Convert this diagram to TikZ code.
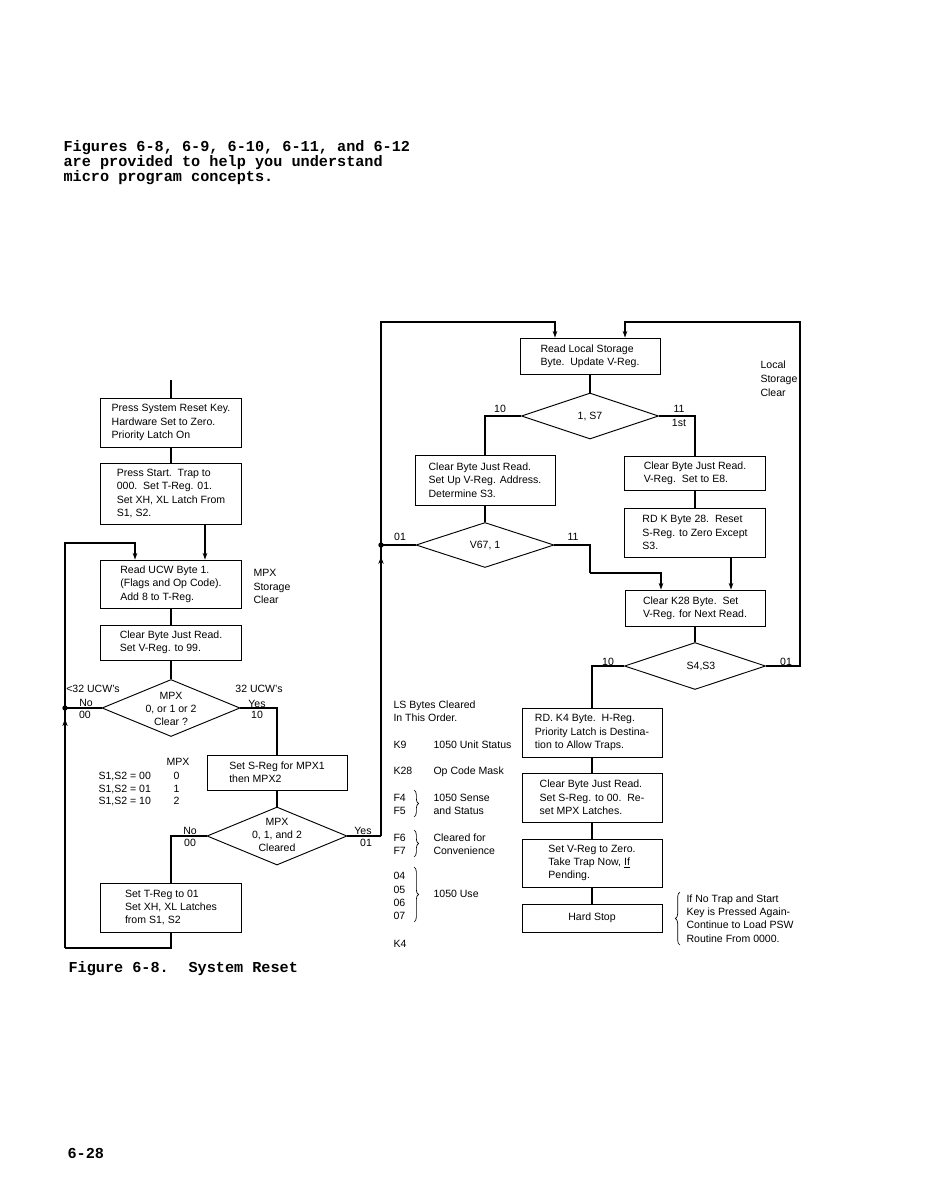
\documentclass[tikz,border=0pt]{standalone}
\usepackage{fontspec}
\setmainfont{Liberation Sans}
\newfontfamily\typew{Liberation Mono}
\usetikzlibrary{shapes.geometric,arrows.meta,decorations.pathreplacing,decorations.markings,calc}
\newcommand\bxfont{\fontsize{7.9}{10}\selectfont}
\newcommand\hdfont{\typew\bfseries\fontsize{11.4}{10.9}\selectfont}
\begin{document}
\begin{tikzpicture}[x=0.75pt,y=-0.75pt,
 line width=0.8pt,
 box/.style={draw, line width=0.7pt, align=left, font=\bxfont, inner sep=2pt},
 dia/.style={draw, shape=diamond, line width=0.7pt, inner sep=0pt},
 lbl/.style={font=\bxfont, inner sep=0pt},
 lw/.style={font=\bxfont, inner sep=0pt, anchor=base west},
 arr/.style={-{Stealth[length=5pt,width=3.5pt]}},
 hd/.style={font=\hdfont, inner sep=0pt, anchor=west},
 dot/.style={circle, fill, inner sep=0pt, minimum size=4pt},
 upmark/.style={postaction={decorate}, decoration={markings, mark=at position #1 with {\arrow{Stealth[length=5.5pt,width=4pt]}}}},
 brc/.style={decorate, decoration={brace, amplitude=3.5pt}, line width=0.5pt}
]
\useasboundingbox[fill=white] (0,0) rectangle (930,1196);

% header
\node[hd] (h1) at (63,148) {Figures 6-8, 6-9, 6-10, 6-11, and 6-12};
\node[hd] (h2) at (63,163) {are provided to help you understand};
\node[hd] (h3) at (63,178) {micro program concepts.};
\node[hd] (cap1) at (68,969) {Figure 6-8.};
\node[hd] (cap2) at (188,969) {System Reset};
\node[hd] (pg) at (67,1153) {6-28};

% left column boxes
\node[box, minimum width=105.75pt, minimum height=36.75pt] (b1) at (171,422.5) {Press System Reset Key.\\Hardware Set to Zero.\\Priority Latch On};
\node[box, minimum width=105.75pt, minimum height=45.75pt] (b2) at (171,493.5) {Press Start.\ \ Trap to\\000.\ \ Set T-Reg. 01.\\Set XH, XL Latch From\\S1, S2.};
\node[box, minimum width=105.75pt, minimum height=36pt] (b3) at (171,584) {Read UCW Byte 1.\\(Flags and Op Code).\\Add 8 to T-Reg.};
\node[box, minimum width=105.75pt, minimum height=26.25pt] (b4) at (171,642.5) {Clear Byte Just Read.\\Set V-Reg. to 99.};
\node[box, minimum width=105pt, minimum height=26.25pt] (b5) at (277,772.5) {Set S-Reg for MPX1\\then MPX2};
\node[box, minimum width=105.75pt, minimum height=36.75pt] (b7) at (171,907.5) {Set T-Reg to 01\\Set XH, XL Latches\\from S1, S2};

% left diamonds
\node[dia, minimum width=103.5pt, minimum height=42.75pt] (d1) at (171,708) {};
\node[lbl, align=center] (d1t) at (171,709) {MPX\\0, or 1 or 2\\Clear ?};
\node[dia, minimum width=105pt, minimum height=43.5pt] (d2) at (277,836) {};
\node[lbl, align=center] (d2t) at (277,835) {MPX\\0, 1, and 2\\Cleared};

% right column boxes
\node[box, minimum width=105pt, minimum height=27pt] (r1) at (590,356) {Read Local Storage\\Byte.\ \ Update V-Reg.};
\node[box, minimum width=105pt, minimum height=37.5pt] (r2) at (485,480) {Clear Byte Just Read.\\Set Up V-Reg. Address.\\Determine S3.};
\node[box, minimum width=105.75pt, minimum height=25.5pt] (r3) at (695,473) {Clear Byte Just Read.\\V-Reg.\ \ Set to E8.};
\node[box, minimum width=105.75pt, minimum height=36.75pt] (r4) at (695,532.5) {RD K Byte 28.\ \ Reset\\S-Reg. to Zero Except\\S3.};
\node[box, minimum width=105pt, minimum height=27pt] (r5) at (695,608) {Clear K28 Byte.\ \ Set\\V-Reg. for Next Read.};
\node[box, minimum width=105pt, minimum height=36.75pt] (r6) at (592,732.5) {RD. K4 Byte.\ \ H-Reg.\\Priority Latch is Destina-\\tion to Allow Traps.};
\node[box, minimum width=105pt, minimum height=36.75pt] (r7) at (592,797.5) {Clear Byte Just Read.\\Set S-Reg. to 00.\ \ Re-\\set MPX Latches.};
\node[box, minimum width=105pt, minimum height=36pt] (r8) at (592,863) {Set V-Reg to Zero.\\Take Trap Now, \underline{If}\\Pending.};
\node[box, minimum width=105pt, minimum height=21pt] (r9) at (592,918) {Hard Stop};

% right diamonds
\node[dia, minimum width=102.75pt, minimum height=34.5pt] (dR) at (590,416) {};
\node[lbl] (dRt) at (590,416) {1, S7};
\node[dia, minimum width=103.5pt, minimum height=33.75pt] (dV) at (485,545) {};
\node[lbl] (dVt) at (485,545) {V67, 1};
\node[dia, minimum width=105.75pt, minimum height=35.25pt] (dS) at (695,666) {};
\node[lbl] (dSt) at (701,666) {S4,S3};

% helper coordinates
\coordinate (top) at (171,380);
\coordinate (xa) at (205,0);
\coordinate (jL) at (65,708);
\coordinate (lb) at (65,948);
\coordinate (lt) at (65,543);
\coordinate (xb) at (135,0);
\coordinate (rB) at (381,836);
\coordinate (jR) at (381,545);
\coordinate (rT) at (381,322);
\coordinate (x555) at (555,0);
\coordinate (v1) at (590,573);
\coordinate (x661) at (661,0);
\coordinate (x731) at (731,0);
\coordinate (cR) at (800,322);
\coordinate (x625) at (625,0);

% left connectors
\draw (top) -- (b1.north);
\draw (b1.south) -- (b2.north);
\draw[arr] (b2.south -| xa) -- (b3.north -| xa);
\draw (b3.south) -- (b4.north);
\draw (b4.south) -- (d1.north);
\draw (d1.west) -- (jL);
\draw (d1.east) -| (b5.north);
\draw (b5.south) -- (d2.north);
\draw (d2.west) -| (b7.north);
\draw (b7.south) |- (lb);
\draw[upmark=0.955] (lb) -- (jL);
\draw[arr] (jL) -- (lt) -| (b3.north -| xb);
\node[dot] (dotL) at (jL) {};

% right connectors
\draw (d2.east) -- (rB);
\draw[upmark=0.96] (rB) -- (jR);
\draw[arr] (jR) -- (rT) -| (r1.north -| x555);
\draw (r1.south) -- (dR.north);
\draw (dR.west) -| (r2.north);
\draw (dR.east) -| (r3.north);
\draw (r3.south) -- (r4.north);
\draw (r2.south) -- (dV.north);
\draw (dV.west) -- (jR);
\draw (dV.east) -| (v1);
\draw[arr] (v1) -| (r5.north -| x661);
\draw[arr] (r4.south -| x731) -- (r5.north -| x731);
\draw (r5.south) -- (dS.north);
\draw (dS.west) -| (r6.north);
\draw[arr] (dS.east) -| (cR) -| (r1.north -| x625);
\draw (r6.south) -- (r7.north);
\draw (r7.south) -- (r8.north);
\draw (r8.south) -- (r9.north);
\node[dot] (dotR) at (jR) {};

% left labels
\node[lw] (m1) at (253,576) {MPX};
\node[lw] (m2) at (253,590) {Storage};
\node[lw] (m3) at (253,603) {Clear};
\node[lbl] (lt32) at (93,689) {<32 UCW's};
\node[lbl] (lno1) at (86,703) {No};
\node[lbl] (l001) at (85,715) {00};
\node[lbl] (l32) at (259,689) {32 UCW's};
\node[lbl] (lyes1) at (257,704) {Yes};
\node[lbl] (l101) at (257,715) {10};
\node[lbl] (tmpx) at (178,762) {MPX};
\node[lw] (t1) at (98,779) {S1,S2 = 00};
\node[lw] (t2) at (98,792) {S1,S2 = 01};
\node[lw] (t3) at (98,804) {S1,S2 = 10};
\node[lw] (t1v) at (173,779) {0};
\node[lw] (t2v) at (173,792) {1};
\node[lw] (t3v) at (173,804) {2};
\node[lbl] (lno2) at (190,831) {No};
\node[lbl] (l002) at (190,843) {00};
\node[lbl] (lyes2) at (363,831) {Yes};
\node[lbl] (l012) at (366,843) {01};

% right labels
\node[lbl] (r10) at (500,409) {10};
\node[lbl] (r11) at (679,409) {11};
\node[lbl] (r1st) at (679,423) {1st};
\node[lw] (ls1) at (760,368) {Local};
\node[lw] (ls2) at (760,382) {Storage};
\node[lw] (ls3) at (760,396) {Clear};
\node[lbl] (v01) at (400,537) {01};
\node[lbl] (v11) at (573,537) {11};
\node[lbl] (s10) at (608,662) {10};
\node[lbl] (s01) at (786,662) {01};

% LS table
\node[lw] (lsa) at (393,708) {LS Bytes Cleared};
\node[lw] (lsb) at (393,721) {In This Order.};
\node[lw] (k9) at (393,748) {K9};
\node[lw] (k9t) at (433,748) {1050 Unit Status};
\node[lw] (k28) at (393,774) {K28};
\node[lw] (k28t) at (433,774) {Op Code Mask};
\node[lw] (f4) at (393,801) {F4};
\node[lw] (f5) at (393,814) {F5};
\node[lw] (f4t) at (433,801) {1050 Sense};
\node[lw] (f5t) at (433,814) {and Status};
\node[lw] (f6) at (393,841) {F6};
\node[lw] (f7) at (393,854) {F7};
\node[lw] (f6t) at (433,841) {Cleared for};
\node[lw] (f7t) at (433,854) {Convenience};
\node[lw] (o4) at (393,879) {04};
\node[lw] (o5) at (393,893) {05};
\node[lw] (o6) at (393,906) {06};
\node[lw] (o7) at (393,919) {07};
\node[lw] (o4t) at (433,897) {1050 Use};
\node[lw] (k4) at (393,947) {K4};
\draw[brc] (414,790) -- (414,817);
\draw[brc] (414,830) -- (414,857);
\draw[brc] (414,867) -- (414,922);

% hard stop note
\draw[brc] (680,945) -- (680,892);
\node[lw] (n1) at (686,902) {If No Trap and Start};
\node[lw] (n2) at (686,915) {Key is Pressed Again-};
\node[lw] (n3) at (686,928) {Continue to Load PSW};
\node[lw] (n4) at (686,942) {Routine From 0000.};
\end{tikzpicture}
\end{document}
